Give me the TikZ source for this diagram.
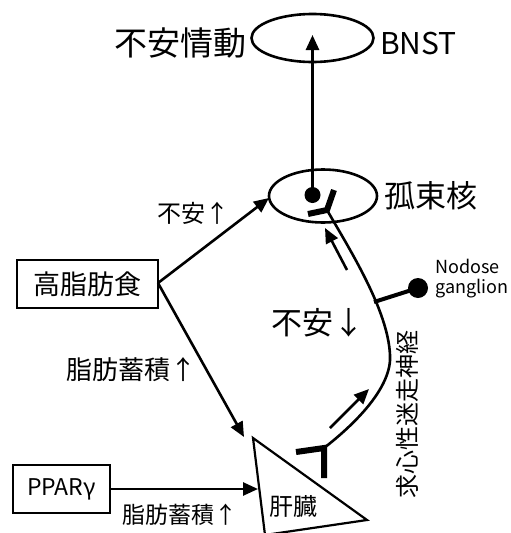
\documentclass[tikz,border=0pt]{standalone}
\usepackage{fontspec}
\setmainfont{Noto Sans CJK JP}
\usetikzlibrary{arrows.meta,shapes.geometric}
\begin{document}
\begin{tikzpicture}[x=1pt,y=-1pt,
  conn/.style={line width=2.6pt,-{Triangle[length=15pt,width=13pt]}},
  plain/.style={line width=2.6pt},
  ell/.style={ellipse,draw,line width=2.6pt,inner sep=0pt},
  boxnode/.style={draw,line width=1.4pt,inner sep=0pt},
  lbl/.style={inner sep=0pt},
  bar/.style={line width=6pt},
  dotnode/.style={circle,fill=black,inner sep=0pt}]
\useasboundingbox (0,0) rectangle (511,533);
% nodes
\node[ell,minimum width=122pt,minimum height=48pt] (bnst) at (312.5,38) {};
\node[lbl,font=\fontsize{33}{35}\selectfont,anchor=east] (anx) at (247,43) {不安情動};
\node[lbl,font=\fontsize{30}{32}\selectfont,anchor=west] (bnstl) at (380,44) {BNST};
\node[ell,minimum width=108pt,minimum height=53pt] (nts) at (323,196) {};
\node[lbl,font=\fontsize{31}{33}\selectfont,anchor=west] (ntsl) at (384,196) {孤束核};
\node[dotnode,minimum size=16pt] (dot) at (312.5,195) {};
\node[boxnode,minimum width=141pt,minimum height=48pt,font=\fontsize{27}{29}\selectfont] (hfd) at (87.5,284) {高脂肪食};
\node[boxnode,minimum width=97pt,minimum height=48pt,font=\fontsize{23}{25}\selectfont] (ppar) at (61.5,489) {PPARγ};
\node[lbl,font=\fontsize{24}{26}\selectfont] (up1) at (193,213) {不安↑};
\node[lbl,font=\fontsize{26}{28}\selectfont] (fat1) at (131,370) {脂肪蓄積↑};
\node[lbl,font=\fontsize{23}{25}\selectfont] (fat2) at (180,515) {脂肪蓄積↑};
\node[lbl,font=\fontsize{31}{33}\selectfont] (down) at (318,323) {不安↓};
\node[lbl,font=\fontsize{24}{26}\selectfont,rotate=90] (vag) at (407,414) {求心性迷走神経};
\node[lbl,font=\fontsize{24}{26}\selectfont] (liverl) at (293,506) {肝臓};
\node[lbl,font=\fontsize{18}{20}\selectfont,align=left,anchor=west] (nod) at (435,279) {Nodose\\ganglion};
% liver triangle
\coordinate (lt) at (253,438);
\coordinate (lr) at (367,520);
\coordinate (lb) at (265,535);
\draw[line width=2.2pt,line join=miter] (lt) -- (lr) -- (lb) -- cycle;
\coordinate (lefttip) at (258,489);
% connectors
\draw[conn] (dot.center) -- ([yshift=3pt]bnst.center);
\coordinate (hfdr) at (158,283);
\coordinate (ntstip) at (269,198);
\coordinate (livtip) at (244,437);
\draw[conn] (hfdr) -- (ntstip);
\draw[conn] (hfdr) -- (livtip);
\draw[conn] (ppar.east) -- (lefttip);
% nerve
\coordinate (jb) at (324,448);
\coordinate (mid) at (390,355);
\coordinate (jt) at (327,210);
\draw[plain] (jb) .. controls (360,420) and (392,385) .. (mid) .. controls (388,310) and (350,250) .. (jt);
\draw[bar] (296,452) -- (jb) -- (324,478);
\draw[bar] (308,214) -- (jt) -- (334,190);
% nodose ganglion
\coordinate (nb) at (374,302);
\node[dotnode,minimum size=20pt] (ng) at (418,288) {};
\draw[line width=4pt] (nb) -- (ng.center);
% parallel arrows
\coordinate (a1s) at (347,270);
\coordinate (a1e) at (325,228);
\coordinate (a2s) at (330,428);
\coordinate (a2e) at (369,389);
\draw[conn] (a1s) -- (a1e);
\draw[conn] (a2s) -- (a2e);
\end{tikzpicture}
\end{document}
